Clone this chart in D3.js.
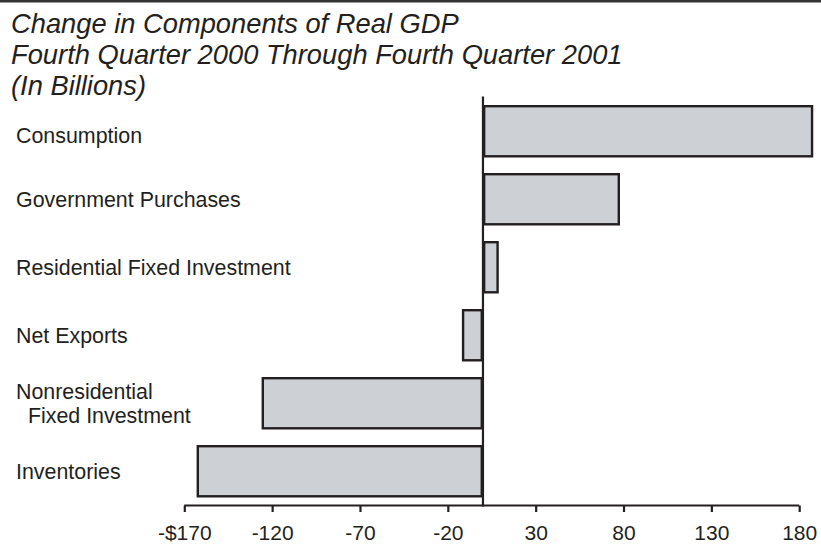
<!DOCTYPE html>
<html>
<head>
<meta charset="utf-8">
<script src="https://cdn.jsdelivr.net/npm/d3@7"></script>
<style>
html,body{margin:0;padding:0;background:#fff;}
svg{display:block;}
</style>
</head>
<body>
<svg id="chart" width="821" height="558"></svg>
<script>
const titleLines = ["Change in Components of Real GDP", "Fourth Quarter 2000 Through Fourth Quarter 2001", "(In Billions)"];
const categories = ["Consumption", "Government Purchases", "Residential Fixed Investment", "Net Exports", "Nonresidential\n  Fixed Investment", "Inventories"];
const values = [188, 78, 9, -12, -126, -163];
const tickValues = [-170, -120, -70, -20, 30, 80, 130, 180];
const tickLabels = ["-$170", "-120", "-70", "-20", "30", "80", "130", "180"];

const svg = d3.select("#chart");
const W = 821, H = 558;
const font = "'Liberation Sans', Arial, Helvetica, sans-serif";
const ink = "#231f20";

// top rule
svg.append("rect").attr("x", 0).attr("y", 0).attr("width", W).attr("height", 2.5).attr("fill", "#333");

// title
const title = svg.append("text").attr("font-family", font).attr("font-style", "italic")
  .attr("font-size", 27.3).attr("fill", ink);
titleLines.forEach((t, i) => {
  title.append("tspan").attr("x", 11).attr("y", 33 + i * 31).text(t);
});

const x = d3.scaleLinear().domain([-170, 180]).range([184.3, 799.2]);
const y = d3.scaleBand().domain(categories).range([97.25, 505.25]).paddingInner(0.228).paddingOuter(0.114);

// bars
svg.append("g").selectAll("rect").data(values).join("rect")
  .attr("x", (d) => Math.min(x(0), x(d)) + 1.2)
  .attr("y", (d, i) => y(categories[i]) + 1.2)
  .attr("width", (d) => Math.abs(x(d) - x(0)) - 2.4)
  .attr("height", y.bandwidth() - 2.4)
  .attr("fill", "#cdd0d5")
  .attr("stroke", ink)
  .attr("stroke-width", 2.4);

// category labels
const labels = svg.append("g").attr("font-family", font).attr("font-size", 21.4).attr("fill", ink);
categories.forEach((c, i) => {
  const parts = c.split("\n");
  const cy = y(c) + y.bandwidth() / 2 + (i === 0 ? 4 : 0);
  const lh = 24.3;
  const t = labels.append("text").attr("xml:space", "preserve").style("white-space", "pre");
  parts.forEach((p, j) => {
    t.append("tspan").attr("x", 16)
      .attr("y", cy + (j - (parts.length - 1) / 2) * lh)
      .attr("dy", "0.36em").text(p);
  });
});

// x axis
const axis = d3.axisBottom(x).tickValues(tickValues).tickSize(6.5).tickPadding(13)
  .tickFormat((d, i) => tickLabels[i]);
const gx = svg.append("g").attr("transform", "translate(0,505.5)").call(axis);
gx.select(".domain").attr("stroke", ink).attr("stroke-width", 2.2)
  .attr("d", `M${x(-170)},0H${x(180)}`);
gx.selectAll(".tick line").attr("stroke", ink).attr("stroke-width", 2.2);
gx.selectAll(".tick text").attr("font-family", font).attr("font-size", 21).attr("fill", ink);

// zero line
svg.append("line").attr("x1", x(0)).attr("x2", x(0)).attr("y1", 96.5).attr("y2", 506.5)
  .attr("stroke", ink).attr("stroke-width", 2.2);
</script>
</body>
</html>
